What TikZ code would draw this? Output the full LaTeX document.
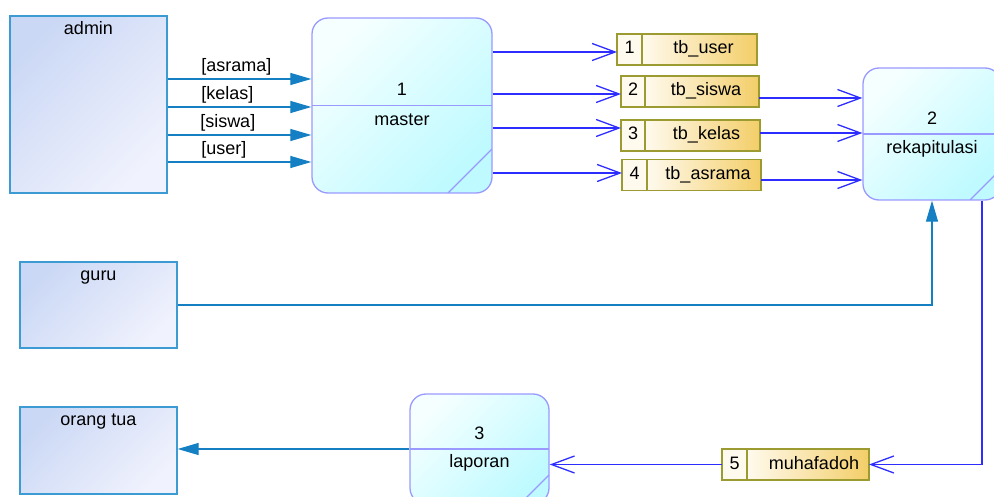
\documentclass[tikz,border=0pt]{standalone}
\usepackage{fontspec}
\setmainfont{Liberation Sans}
\usetikzlibrary{positioning}
\usetikzlibrary{arrows.meta}

\definecolor{entline}{RGB}{60,155,210}
\definecolor{entA}{RGB}{203,216,245}
\definecolor{entB}{RGB}{240,242,253}
\definecolor{procline}{RGB}{153,153,255}
\definecolor{procA}{RGB}{245,255,255}
\definecolor{procB}{RGB}{190,250,255}
\definecolor{stline}{RGB}{155,155,50}
\definecolor{stA}{RGB}{255,250,238}
\definecolor{stB}{RGB}{243,206,104}
\definecolor{tealflow}{RGB}{20,128,195}
\definecolor{blueflow}{RGB}{45,45,255}

\tikzset{
  entity/.style={draw=entline, line width=1.3pt, top color=entA, bottom color=entB,
    shading angle=45, minimum width=157pt, inner sep=0pt},
  proc/.style={draw=procline, line width=1.3pt, top color=procA, bottom color=procB,
    shading angle=45, rounded corners=16pt, inner sep=0pt,
    path picture={
      \draw[procline, line width=1.3pt] (path picture bounding box.west) -- (path picture bounding box.east);
      \draw[procline, line width=1.3pt] ([xshift=-#1]path picture bounding box.south east) -- ([yshift=#1]path picture bounding box.south east);
    }},
  stnum/.style={draw=stline, line width=1.3pt, fill=stA, minimum height=31pt, inner sep=0pt,
    outer sep=0pt, text height=11pt, text depth=2pt},
  stname/.style={draw=stline, line width=1.3pt, left color=stA, right color=stB,
    minimum height=31pt, inner sep=0pt, outer sep=0pt, text height=11pt, text depth=2pt},
  flow/.style={draw=tealflow, line width=1.2pt, -{Triangle[length=21pt,width=12pt]}},
  sflow/.style={draw=blueflow, line width=1.3pt, -{Straight Barb[length=23pt,width=17pt]}},
  flowlabel/.style={anchor=base west, inner sep=0pt}
}

\begin{document}
\begin{tikzpicture}[x=1pt, y=-1pt, font=\fontsize{18}{21}\selectfont]
\clip (0,0) rectangle (994,497);

% external entities
\node[entity, minimum height=177pt] (admin) at (88.5,104.5) {};
\node[entity, minimum height=86pt] (guru) at (98.5,305) {};
\node[entity, minimum height=87pt] (orangtua) at (98.5,450.5) {};
\node[anchor=base] (admin-t) at ([yshift=-19pt]admin.north) {admin};
\node[anchor=base] (guru-t) at ([yshift=-19pt]guru.north) {guru};
\node[anchor=base] (orangtua-t) at ([yshift=-19pt]orangtua.north) {orang tua};

% processes
\node[proc=44pt, minimum width=180pt, minimum height=175pt] (master) at (402,105.5) {};
\node[proc=31pt, minimum width=138pt, minimum height=132pt] (rekap) at (932,134) {};
\node[proc=29pt, minimum width=139pt, minimum height=110pt] (laporan) at (479.5,449) {};
\node[anchor=base] (master-n) at ([yshift=10pt]master.center) {1};
\node[anchor=base] (master-t) at ([yshift=-20pt]master.center) {master};
\node[anchor=base] (rekap-n) at ([yshift=9pt]rekap.center) {2};
\node[anchor=base] (rekap-t) at ([yshift=-20pt]rekap.center) {rekapitulasi};
\node[anchor=base] (laporan-n) at ([yshift=10pt]laporan.center) {3};
\node[anchor=base] (laporan-t) at ([yshift=-18pt]laporan.center) {laporan};

% data stores
\node[stnum, minimum width=25pt] (s1n) at (629.5,49.5) {1};
\node[stname, minimum width=115pt, right=0pt of s1n] (s1) {\hspace{8pt}tb\_user};
\node[stnum, minimum width=24pt] (s2n) at (633,91.5) {2};
\node[stname, minimum width=114pt, right=0pt of s2n] (s2) {\hspace{8pt}tb\_siswa};
\node[stnum, minimum width=24pt] (s3n) at (633,135.5) {3};
\node[stname, minimum width=115pt, right=0pt of s3n] (s3) {\hspace{8pt}tb\_kelas};
\node[stnum, minimum width=25pt] (s4n) at (634.5,175) {4};
\node[stname, minimum width=114pt, right=0pt of s4n] (s4) {\hspace{8pt}tb\_asrama};
\node[stnum, minimum width=25pt] (s5n) at (734.5,464.5) {5};
\node[stname, minimum width=122pt, right=0pt of s5n] (s5) {\hspace{12pt}muhafadoh};

% admin -> master
\draw[flow] (admin.east |- 0,79) -- node[flowlabel, at start, xshift=33pt, yshift=7pt] (l-asrama) {[asrama]} (master.west |- 0,79);
\draw[flow] (admin.east |- 0,107) -- node[flowlabel, at start, xshift=33pt, yshift=7pt] (l-kelas) {[kelas]} (master.west |- 0,107);
\draw[flow] (admin.east |- 0,135) -- node[flowlabel, at start, xshift=32pt, yshift=7pt] (l-siswa) {[siswa]} (master.west |- 0,135);
\draw[flow] (admin.east |- 0,162) -- node[flowlabel, at start, xshift=33pt, yshift=7pt] (l-user) {[user]} (master.west |- 0,162);

% master -> stores
\draw[sflow] (master.east |- 0,52) -- (s1n.west |- 0,52);
\draw[sflow] (master.east |- 0,94) -- (s2n.west |- 0,94);
\draw[sflow] (master.east |- 0,128) -- (s3n.west |- 0,128);
\draw[sflow] (master.east |- 0,173) -- (s4n.west |- 0,173);

% stores -> rekapitulasi
\draw[sflow] (s2.east |- 0,98) -- (rekap.west |- 0,98);
\draw[sflow] (s3.east |- 0,133) -- (rekap.west |- 0,133);
\draw[sflow] (s4.east |- 0,180) -- (rekap.west |- 0,180);

% guru, muhafadoh, laporan
\draw[flow] (guru.east) -| (rekap.south);
\draw[sflow] (rekap.south -| 982,0) |- (s5.east);
\draw[sflow] (s5n.west) -- (laporan.east |- s5n.west);
\draw[flow] (laporan.west) -- (orangtua.east |- laporan.west);
\end{tikzpicture}
\end{document}
